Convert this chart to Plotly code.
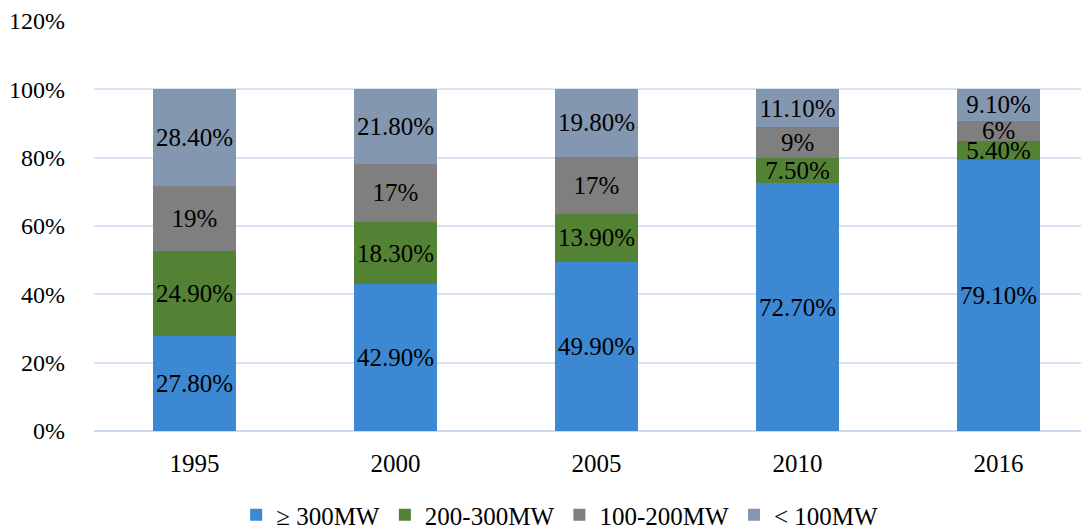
import plotly.graph_objects as go

years = ["1995", "2000", "2005", "2010", "2016"]
series_names = ["≥ 300MW", "200-300MW", "100-200MW", "< 100MW"]
s300 = [27.8, 42.9, 49.9, 72.7, 79.1]
s200 = [24.9, 18.3, 13.9, 7.5, 5.4]
s100 = [19, 17, 17, 9, 6]
s0 = [28.4, 21.8, 19.8, 11.1, 9.1]
lab300 = ["27.80%", "42.90%", "49.90%", "72.70%", "79.10%"]
lab200 = ["24.90%", "18.30%", "13.90%", "7.50%", "5.40%"]
lab100 = ["19%", "17%", "17%", "9%", "6%"]
lab0 = ["28.40%", "21.80%", "19.80%", "11.10%", "9.10%"]
y_ticks = [0, 20, 40, 60, 80, 100, 120]

colors = ["#3d88d3", "#548235", "#7f7f7f", "#8497b0"]
FONT = "Liberation Serif"

# 100% stacked: each year's segments normalised to its total
totals = [a + b + c + d for a, b, c, d in zip(s300, s200, s100, s0)]

fig = go.Figure()
for name, vals, labs, col in zip(series_names, [s300, s200, s100, s0],
                                 [lab300, lab200, lab100, lab0], colors):
    fig.add_trace(go.Bar(
        x=years, y=[v / t for v, t in zip(vals, totals)], name=name,
        marker=dict(color=col, line=dict(width=0)),
        text=labs, textposition="inside", insidetextanchor="middle",
        textangle=0, constraintext="none", cliponaxis=False,
        textfont=dict(family=FONT, size=25, color="black"),
        hoverinfo="skip",
    ))

fig.update_layout(
    barmode="stack", bargap=0.59,
    width=1081, height=520,
    margin=dict(l=86, r=0, t=13, b=97, autoexpand=False),
    paper_bgcolor="white", plot_bgcolor="white",
    font=dict(family=FONT, size=24, color="black"),
    showlegend=True,
    legend=dict(orientation="h", x=0.468, xanchor="center",
                yref="container", y=0.025, yanchor="middle",
                font=dict(family=FONT, size=25, color="black"), traceorder="normal",
                itemwidth=30, tracegroupgap=0),
    xaxis=dict(range=[-0.5, 4.45], showgrid=False, showline=False, zeroline=False,
               tickfont=dict(family=FONT, size=25, color="black"), ticklabelstandoff=15),
    yaxis=dict(range=[0, 1.2], tickvals=[t / 100 for t in y_ticks],
               ticktext=[f"{t}%" for t in y_ticks],
               showgrid=True, gridcolor="#d9e2f3", gridwidth=1.5,
               zeroline=True, zerolinecolor="#ccd9ee", zerolinewidth=1.5,
               showline=False,
               tickfont=dict(family=FONT, size=24, color="black"), ticklabelstandoff=28),
)

fig.write_html("out.html")
